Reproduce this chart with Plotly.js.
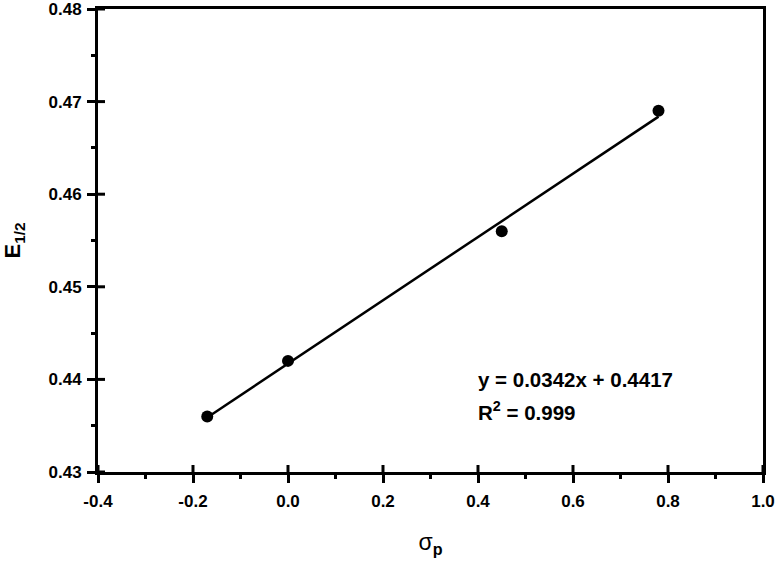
<!DOCTYPE html>
<html>
<head>
<meta charset="utf-8">
<script src="https://cdn.plot.ly/plotly-3.0.1.min.js"></script>
<style>html,body{margin:0;padding:0;background:#fff;}#chart{width:776px;height:562px;}</style>
</head>
<body>
<div id="chart"></div>
<script>
var sigmaP = [-0.17, 0.0, 0.45, 0.78];
var e12 = [0.436, 0.442, 0.456, 0.469];
var fitSlope = 0.0342;
var fitIntercept = 0.4417;
var eqText = "y = 0.0342x + 0.4417";
var r2Text = "R<sup>2</sup> = 0.999";
var xTickVals = [-0.4, -0.2, 0.0, 0.2, 0.4, 0.6, 0.8, 1.0];
var xTickText = ["-0.4", "-0.2", "0.0", "0.2", "0.4", "0.6", "0.8", "1.0"];
var yTickVals = [0.43, 0.44, 0.45, 0.46, 0.47, 0.48];
var yTickText = ["0.43", "0.44", "0.45", "0.46", "0.47", "0.48"];

var fitX = [Math.min.apply(null, sigmaP), Math.max.apply(null, sigmaP)];
var fitY = fitX.map(function (x) { return fitSlope * x + fitIntercept; });

var font = "Liberation Sans, Arial, sans-serif";
var W = 776, H = 562;
var margin = {l: 98, r: 13, t: 9, b: 90};
var plotW = W - margin.l - margin.r, plotH = H - margin.t - margin.b;
var innerTick = 7;

// inner halves of the major ticks (ticks cross the axis line)
var shapes = [];
xTickVals.forEach(function (v) {
  shapes.push({type: "line", xref: "x", yref: "y domain", x0: v, x1: v, y0: 0, y1: innerTick / plotH,
               line: {color: "#000", width: 3}, layer: "above"});
});
yTickVals.forEach(function (v) {
  shapes.push({type: "line", xref: "x domain", yref: "y", x0: 0, x1: innerTick / plotW, y0: v, y1: v,
               line: {color: "#000", width: 3}, layer: "above"});
});

var traces = [
  {x: fitX, y: fitY, mode: "lines", line: {color: "#000", width: 2.5}, hoverinfo: "skip", showlegend: false},
  {x: sigmaP, y: e12, mode: "markers", marker: {color: "#000", size: 12}, showlegend: false}
];

var layout = {
  width: W, height: H,
  margin: margin,
  paper_bgcolor: "#fff", plot_bgcolor: "#fff",
  font: {family: font, color: "#000"},
  showlegend: false,
  xaxis: {
    range: [-0.4, 1.0], tickmode: "array", tickvals: xTickVals, ticktext: xTickText,
    showgrid: false, zeroline: false,
    showline: true, linecolor: "#000", linewidth: 3, mirror: true,
    ticks: "outside", ticklen: 8, tickwidth: 3, tickcolor: "#000",
    minor: {ticks: "outside", dtick: 0.1, ticklen: 4, tickwidth: 3, tickcolor: "#000"},
    tickfont: {size: 17, family: font, weight: "bold"},
    ticklabelstandoff: 4, ticklabeloverflow: "allow",
    title: {text: "σ<sub><b>p</b></sub>", font: {size: 23, family: font}, standoff: 24}
  },
  yaxis: {
    range: [0.43, 0.48], tickmode: "array", tickvals: yTickVals, ticktext: yTickText,
    showgrid: false, zeroline: false,
    showline: true, linecolor: "#000", linewidth: 3, mirror: true,
    ticks: "outside", ticklen: 8, tickwidth: 3, tickcolor: "#000",
    minor: {ticks: "outside", dtick: 0.005, ticklen: 4, tickwidth: 3, tickcolor: "#000"},
    tickfont: {size: 17, family: font, weight: "bold"},
    ticklabelstandoff: 2, ticklabeloverflow: "allow",
    title: {text: "<b>E<sub>1/2</sub></b>", font: {size: 22, family: font}, standoff: 29}
  },
  shapes: shapes,
  annotations: [
    {x: 0.395, y: 0.4400, xref: "x", yref: "y", xanchor: "left", yanchor: "middle",
     text: eqText, showarrow: false, font: {size: 20.5, family: font, weight: "bold"}},
    {x: 0.395, y: 0.4366, xref: "x", yref: "y", xanchor: "left", yanchor: "middle",
     text: r2Text, showarrow: false, font: {size: 20.5, family: font, weight: "bold"}}
  ]
};

Plotly.newPlot("chart", traces, layout, {displayModeBar: false, staticPlot: true});
</script>
</body>
</html>
